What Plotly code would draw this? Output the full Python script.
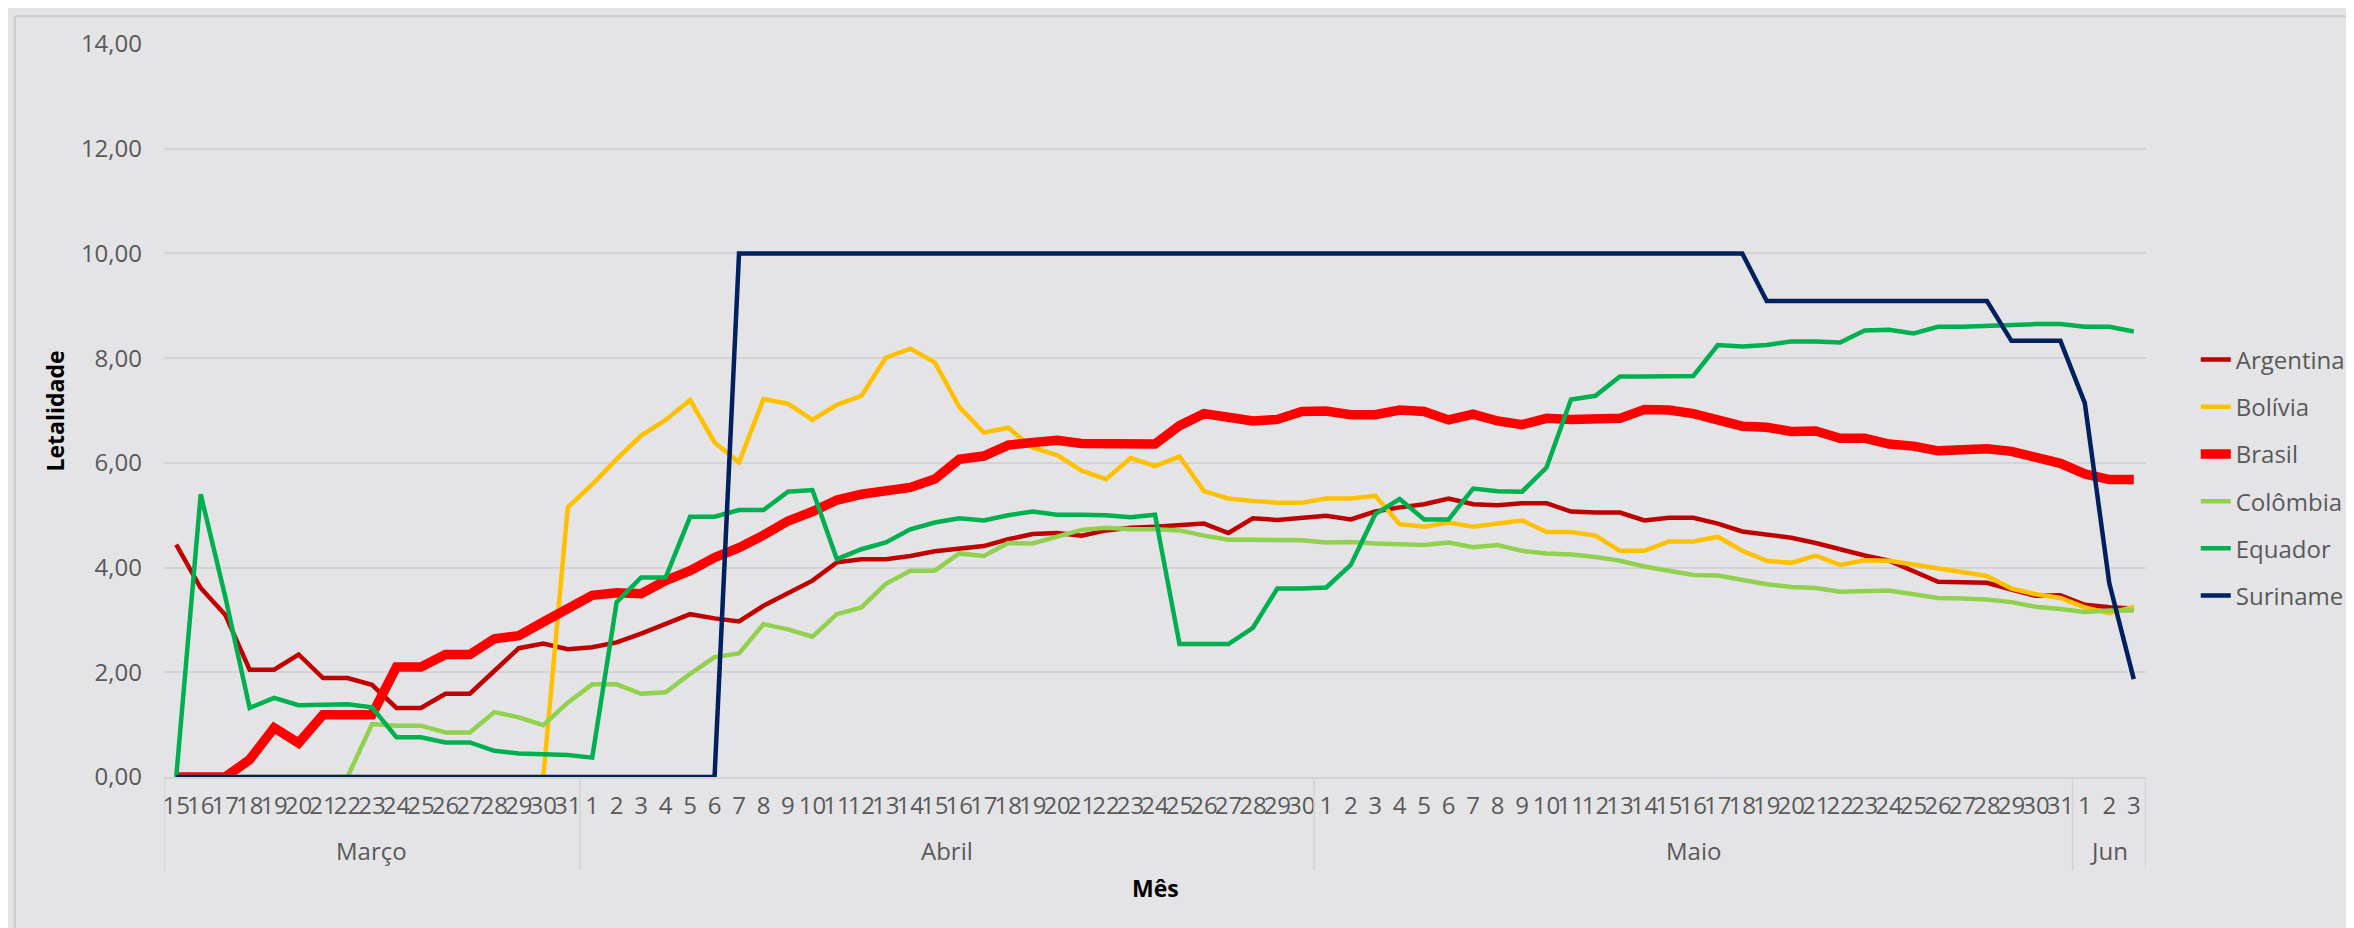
import plotly.graph_objects as go

# eixo x: dias agrupados por mês
meses = ["Março", "Abril", "Maio", "Jun"]
dias = [list(range(15, 32)), list(range(1, 31)), list(range(1, 32)), list(range(1, 4))]

argentina = [4.44, 3.61, 3.10, 2.05, 2.05, 2.34, 1.89, 1.89, 1.76, 1.32, 1.32, 1.59, 1.59, 2.02, 2.46, 2.55, 2.44,
             2.48, 2.57, 2.74, 2.93, 3.11, 3.03, 2.97, 3.27, 3.51, 3.75, 4.10, 4.16, 4.16, 4.22, 4.31, 4.35, 4.41,
             4.54, 4.64, 4.66, 4.61, 4.71, 4.76, 4.78, 4.82, 4.84, 4.66, 4.94, 4.91, 4.94,
             4.99, 4.92, 5.07, 5.15, 5.21, 5.32, 5.21, 5.19, 5.23, 5.23, 5.07, 5.05, 5.05, 4.90, 4.95, 4.95, 4.84,
             4.69, 4.64, 4.57, 4.47, 4.34, 4.23, 4.13, 3.92, 3.73, 3.72, 3.71, 3.58, 3.46, 3.47,
             3.29, 3.24, 3.22]
bolivia = [0, 0, 0, 0, 0, 0, 0, 0, 0, 0, 0, 0, 0, 0, 0, 0, 5.15,
           5.59, 6.07, 6.52, 6.82, 7.20, 6.39, 6.01, 7.22, 7.13, 6.82, 7.11, 7.28, 8.01, 8.18, 7.92, 7.07, 6.58,
           6.67, 6.29, 6.15, 5.85, 5.69, 6.09, 5.94, 6.12, 5.46, 5.32, 5.27, 5.24, 5.24,
           5.32, 5.32, 5.37, 4.83, 4.78, 4.86, 4.78, 4.84, 4.90, 4.68, 4.68, 4.61, 4.32, 4.32, 4.50, 4.50, 4.59,
           4.32, 4.13, 4.09, 4.23, 4.05, 4.14, 4.13, 4.06, 3.99, 3.92, 3.84, 3.60, 3.49, 3.42,
           3.24, 3.13, 3.25]
brasil = [0, 0, 0, 0.33, 0.94, 0.65, 1.19, 1.19, 1.19, 2.10, 2.10, 2.34, 2.34, 2.64, 2.70, 2.96, 3.22,
          3.47, 3.52, 3.50, 3.75, 3.94, 4.19, 4.38, 4.62, 4.89, 5.07, 5.29, 5.40, 5.45, 5.53, 5.69, 6.07, 6.13,
          6.34, 6.39, 6.43, 6.37, 6.36, 6.37, 6.36, 6.71, 6.94, 6.87, 6.80, 6.83, 6.98,
          6.99, 6.92, 6.92, 7.01, 6.98, 6.82, 6.93, 6.80, 6.73, 6.85, 6.83, 6.85, 6.85, 7.02, 7.01, 6.94, 6.82,
          6.70, 6.68, 6.60, 6.61, 6.47, 6.47, 6.36, 6.32, 6.23, 6.25, 6.27, 6.22, 6.11, 5.99,
          5.79, 5.68, 5.68]
colombia = [0, 0, 0, 0, 0, 0, 0, 0, 1.01, 0.98, 0.98, 0.85, 0.85, 1.24, 1.14, 0.99, 1.42,
            1.77, 1.77, 1.59, 1.62, 1.97, 2.29, 2.36, 2.92, 2.82, 2.68, 3.11, 3.24, 3.69, 3.94, 3.94, 4.27, 4.22,
            4.47, 4.46, 4.59, 4.72, 4.76, 4.73, 4.73, 4.71, 4.61, 4.53, 4.53, 4.52, 4.52,
            4.48, 4.49, 4.46, 4.45, 4.43, 4.48, 4.39, 4.43, 4.32, 4.27, 4.25, 4.20, 4.13, 4.02, 3.94, 3.86, 3.85,
            3.77, 3.68, 3.63, 3.61, 3.54, 3.54, 3.56, 3.49, 3.42, 3.41, 3.39, 3.34, 3.25, 3.21,
            3.15, 3.18, 3.18]
equador = [0, 5.40, 3.45, 1.32, 1.51, 1.37, 1.38, 1.39, 1.33, 0.76, 0.76, 0.66, 0.66, 0.50, 0.45, 0.44, 0.42,
           0.37, 3.34, 3.81, 3.81, 4.97, 4.97, 5.10, 5.10, 5.45, 5.48, 4.16, 4.35, 4.48, 4.73, 4.86, 4.94, 4.90,
           5.00, 5.07, 5.01, 5.01, 5.00, 4.96, 5.01, 2.54, 2.54, 2.54, 2.85, 3.60, 3.60,
           3.62, 4.05, 5.02, 5.31, 4.92, 4.92, 5.51, 5.46, 5.45, 5.91, 7.21, 7.28, 7.65, 7.65, 7.66, 7.66, 8.25,
           8.22, 8.25, 8.32, 8.32, 8.30, 8.53, 8.54, 8.47, 8.60, 8.60, 8.62, 8.63, 8.65, 8.65,
           8.60, 8.60, 8.51]
suriname = [0, 0, 0, 0, 0, 0, 0, 0, 0, 0, 0, 0, 0, 0, 0, 0, 0,
            0, 0, 0, 0, 0, 0, 10, 10, 10, 10, 10, 10, 10, 10, 10, 10, 10,
            10, 10, 10, 10, 10, 10, 10, 10, 10, 10, 10, 10, 10,
            10, 10, 10, 10, 10, 10, 10, 10, 10, 10, 10, 10, 10, 10, 10, 10, 10,
            10, 9.09, 9.09, 9.09, 9.09, 9.09, 9.09, 9.09, 9.09, 9.09, 9.09, 8.33, 8.33, 8.33,
            7.14, 3.70, 1.87]

categorias = [f"{d} {m}" for m, ds in zip(meses, dias) for d in ds]
rotulos = [str(d) for ds in dias for d in ds]

series = [
    ("Argentina", argentina, "#C00000", 4.5),
    ("Bolívia", bolivia, "#FFC000", 4.5),
    ("Brasil", brasil, "#FF0000", 9.5),
    ("Colômbia", colombia, "#92D050", 4.5),
    ("Equador", equador, "#00B050", 4.5),
    ("Suriname", suriname, "#002060", 4.5),
]

fonte = "Open Sans"
cinza = "#595959"
tam = 24

fig = go.Figure()
for nome, valores, cor, largura in series:
    fig.add_trace(go.Scatter(x=categorias, y=valores, mode="lines", name=nome, legendgroup=nome,
                             line=dict(color=cor, width=largura)))

# posições dos grupos de meses (em índice de categoria)
limites = [-0.5]
for ds in dias:
    limites.append(limites[-1] + len(ds))

shapes = []
for b in limites:
    shapes.append(dict(type="line", xref="x", yref="paper", x0=b, x1=b, y0=0, y1=-0.127,
                       line=dict(color="#D2D2D4", width=1.5)))
# moldura do gráfico
shapes.append(dict(type="line", xref="paper", yref="paper", x0=-0.0752, x1=1.12, y0=1.038, y1=1.038,
                   line=dict(color="#CCCCCC", width=2)))
shapes.append(dict(type="line", xref="paper", yref="paper", x0=-0.0752, x1=-0.0752, y0=1.038, y1=-0.3,
                   line=dict(color="#CCCCCC", width=2)))

annotations = []
for i, m in enumerate(meses):
    annotations.append(dict(x=(limites[i] + limites[i + 1]) / 2, y=-0.0996, xref="x", yref="paper",
                            text=m, showarrow=False, font=dict(family=fonte, size=tam, color=cinza),
                            xanchor="center", yanchor="middle"))
annotations.append(dict(x=0.5, y=-0.1514, xref="paper", yref="paper", text="<b>Mês</b>", showarrow=False,
                        font=dict(family=fonte, size=23, color="#000000"), xanchor="center", yanchor="middle"))
annotations.append(dict(x=-0.055, y=0.5, xref="paper", yref="paper", text="<b>Letalidade</b>", showarrow=False,
                        textangle=-90, font=dict(family=fonte, size=23, color="#000000"),
                        xanchor="center", yanchor="middle"))

fig.update_layout(
    width=2354, height=928,
    margin=dict(l=156, r=216, t=36, b=159),
    paper_bgcolor="#E4E4E6", plot_bgcolor="#E4E4E6",
    separators=",.",
    font=dict(family=fonte, color=cinza, size=tam),
    showlegend=True,
    legend=dict(x=1.0251, y=0.408, xanchor="left", yanchor="middle", traceorder="grouped",
                tracegroupgap=13, bgcolor="rgba(0,0,0,0)", font=dict(family=fonte, size=tam, color=cinza)),
    shapes=shapes,
    annotations=annotations,
    xaxis=dict(type="category", range=[-0.5, len(categorias) - 0.5], tickvals=categorias, ticktext=rotulos,
               tickangle=0, ticks="", showgrid=False, zeroline=False, showline=True, linecolor="#D2D2D4",
               linewidth=1.5, tickfont=dict(family=fonte, size=tam, color=cinza), ticklabelstandoff=6),
    yaxis=dict(range=[0, 14], dtick=2, tickformat=".2f", showgrid=True, gridcolor="#D4D4D6", gridwidth=1.5,
               zeroline=False, showline=False, ticks="", ticklabelstandoff=21,
               tickfont=dict(family=fonte, size=tam, color=cinza)),
)

fig.write_html("out.html")
